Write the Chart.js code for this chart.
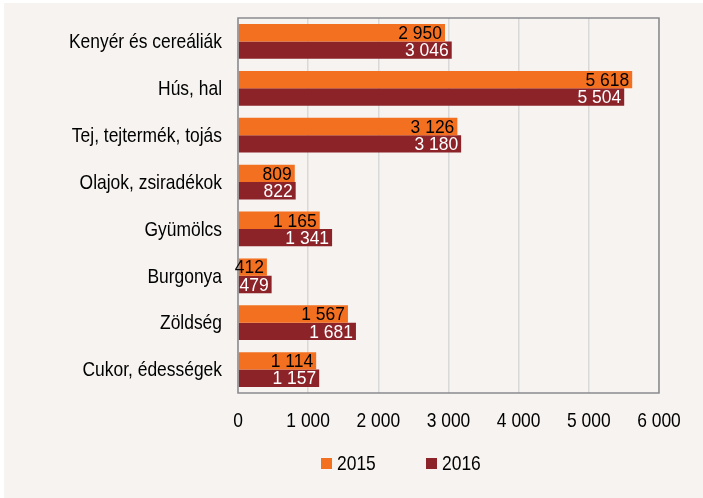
<!DOCTYPE html>
<html>
<head>
<meta charset="utf-8">
<script src="https://cdn.jsdelivr.net/npm/chart.js@4"></script>
<style>
  html, body { margin: 0; padding: 0; background: #ffffff; }
  #wrap { position: absolute; left: 4px; top: 3px; width: 699px; height: 495px; background: #f6f3f0; }
  canvas { display: block; }
</style>
</head>
<body>
<div id="wrap"><canvas id="c" width="699" height="495"></canvas></div>
<script>
const categories = [
  "Kenyér és cereáliák",
  "Hús, hal",
  "Tej, tejtermék, tojás",
  "Olajok, zsiradékok",
  "Gyümölcs",
  "Burgonya",
  "Zöldség",
  "Cukor, édességek"
];
const values2015 = [2950, 5618, 3126, 809, 1165, 412, 1567, 1114];
const values2016 = [3046, 5504, 3180, 822, 1341, 479, 1681, 1157];
const seriesNames = ["2015", "2016"];
const seriesColors = ["#f37021", "#8b2329"];

const FONT = "'Liberation Sans', Arial, sans-serif";
const fmt = (v) => String(v).replace(/\B(?=(\d{3})+(?!\d))/g, " ");

// no narrow font installed: squeeze text horizontally
function narrowText(ctx, text, x, y, size, squeeze, align, color) {
  ctx.save();
  ctx.font = size + "px " + FONT;
  ctx.fillStyle = color;
  ctx.textBaseline = "middle";
  ctx.textAlign = align;
  ctx.translate(x, y);
  ctx.scale(squeeze, 1);
  ctx.fillText(text, 0, 0);
  ctx.restore();
}

const textLayer = {
  id: "textLayer",
  afterDraw(chart) {
    const ctx = chart.ctx;
    const a = chart.chartArea;
    const xs = chart.scales.x;
    const ys = chart.scales.y;

    // frame round plot area
    ctx.save();
    ctx.strokeStyle = "#8a8a8e";
    ctx.lineWidth = 1.5;
    ctx.strokeRect(a.left, a.top, a.right - a.left, a.bottom - a.top);
    ctx.restore();

    // value labels at bar ends
    chart.data.datasets.forEach((ds, i) => {
      const meta = chart.getDatasetMeta(i);
      meta.data.forEach((bar, j) => {
        narrowText(ctx, fmt(ds.data[j]), bar.x - 3, bar.y + 1, 19, 0.92, "right", i === 0 ? "#000000" : "#ffffff");
      });
    });

    // category labels
    ys.ticks.forEach((t, i) => {
      narrowText(ctx, categories[i], a.left - 16, ys.getPixelForTick(i) + 1, 21, 0.83, "right", "#000000");
    });

    // value axis labels
    xs.ticks.forEach((t) => {
      narrowText(ctx, fmt(t.value), xs.getPixelForValue(t.value), a.bottom + 28, 21, 0.83, "center", "#000000");
    });

    // legend
    const lx = [317, 422];
    chart.data.datasets.forEach((ds, i) => {
      ctx.fillStyle = ds.backgroundColor;
      ctx.fillRect(lx[i], 455, 11, 11);
      narrowText(ctx, ds.label, lx[i] + 16, 461, 21, 0.83, "left", "#000000");
    });
  }
};

new Chart(document.getElementById("c"), {
  type: "bar",
  data: {
    labels: categories,
    datasets: [
      { label: seriesNames[0], data: values2015, backgroundColor: seriesColors[0], borderWidth: 0 },
      { label: seriesNames[1], data: values2016, backgroundColor: seriesColors[1], borderWidth: 0 }
    ]
  },
  options: {
    indexAxis: "y",
    responsive: false,
    animation: false,
    layout: { padding: { left: 10, top: 15, right: 44, bottom: 65 } },
    datasets: { bar: { categoryPercentage: 0.74, barPercentage: 1.0 } },
    plugins: {
      legend: { display: false },
      tooltip: { enabled: false }
    },
    scales: {
      x: {
        min: 0,
        max: 6000,
        afterFit: (s) => { s.height = 40; },
        ticks: {
          stepSize: 1000,
          color: "rgba(0,0,0,0)",
          font: { family: FONT, size: 16 },
          callback: (v) => fmt(v)
        },
        grid: { color: "#d9d9d9", lineWidth: 1.5, drawTicks: false },
        border: { display: false }
      },
      y: {
        afterFit: (s) => { s.width = 224; },
        ticks: { color: "rgba(0,0,0,0)", font: { family: FONT, size: 16 } },
        grid: { display: false, drawTicks: false },
        border: { display: false }
      }
    }
  },
  plugins: [textLayer]
});
</script>
</body>
</html>
